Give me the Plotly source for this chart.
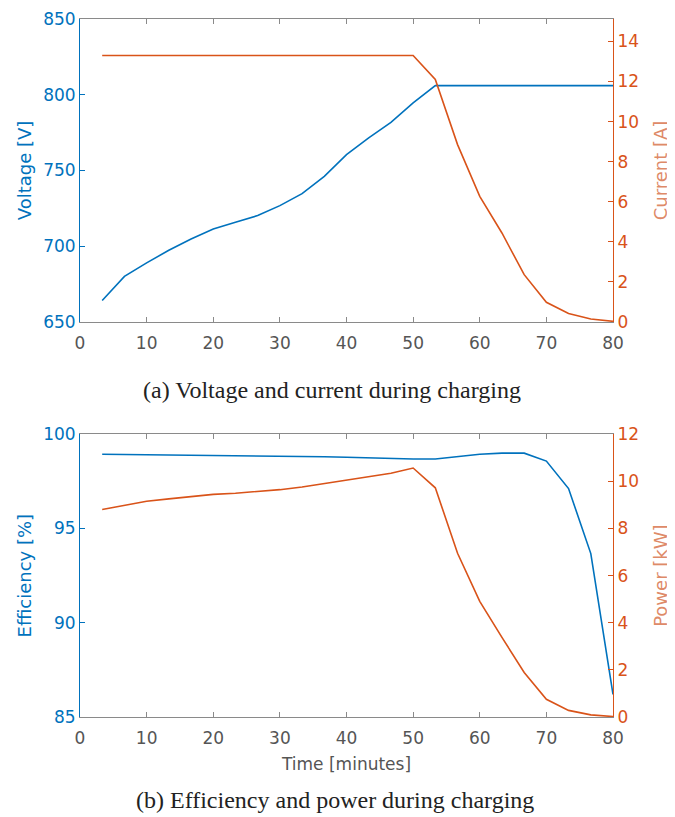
import plotly.graph_objects as go

time_min = [3.33, 6.67, 10, 13.33, 16.67, 20, 23.33, 26.67, 30, 33.33, 36.67, 40,
            43.33, 46.67, 50, 53.33, 56.67, 60, 63.33, 66.67, 70, 73.33, 76.67, 80]

voltage_v = [664.1, 680.1, 689.0, 697.3, 704.8, 711.4, 715.8, 720.2, 726.8, 734.7, 746.1, 760.5,
             771.5, 781.8, 794.6, 806.0, 806.0, 806.0, 806.0, 806.0, 806.0, 806.0, 806.0, 806.0]

current_a = [13.3, 13.3, 13.3, 13.3, 13.3, 13.3, 13.3, 13.3, 13.3, 13.3, 13.3, 13.3,
             13.3, 13.3, 13.3, 12.1, 8.85, 6.27, 4.44, 2.36, 0.98, 0.42, 0.15, 0.03]

efficiency_pct = [98.94, 98.93, 98.92, 98.9, 98.89, 98.89, 98.88, 98.87, 98.86, 98.84, 98.81, 98.78,
                  98.75, 98.7, 98.69, 98.69, 98.83, 98.94, 99.0, 99.0, 98.58, 97.12, 93.67, 86.2]

power_kw = [8.81, 9.0, 9.16, 9.26, 9.36, 9.45, 9.5, 9.56, 9.65, 9.76, 9.9, 10.05,
            10.18, 10.35, 10.57, 9.73, 6.95, 4.91, 3.38, 1.89, 0.75, 0.28, 0.09, 0.02]

x_ticks = [0, 10, 20, 30, 40, 50, 60, 70, 80]
voltage_ticks = [650, 700, 750, 800, 850]
current_ticks = [0, 2, 4, 6, 8, 10, 12, 14]
eff_ticks = [85, 90, 95, 100]
power_ticks = [0, 2, 4, 6, 8, 10, 12]

BLUE = "#0072BD"
RED = "#D95319"
RED_TITLE = "#DE8A68"
GRAY = "#555555"
AXGRAY = "#8a8a8a"
FONT = "DejaVu Sans, Arial, sans-serif"
SERIF = "Liberation Serif, Times New Roman, serif"

fig = go.Figure()
fig.add_trace(go.Scatter(x=time_min, y=voltage_v, mode="lines", line=dict(color=BLUE, width=1.6),
                         xaxis="x", yaxis="y", showlegend=False))
fig.add_trace(go.Scatter(x=time_min, y=current_a, mode="lines", line=dict(color=RED, width=1.6),
                         xaxis="x", yaxis="y2", showlegend=False))
fig.add_trace(go.Scatter(x=time_min, y=efficiency_pct, mode="lines", line=dict(color=BLUE, width=1.6),
                         xaxis="x2", yaxis="y3", showlegend=False))
fig.add_trace(go.Scatter(x=time_min, y=power_kw, mode="lines", line=dict(color=RED, width=1.6),
                         xaxis="x2", yaxis="y4", showlegend=False))

top_dom = [0.566, 1.0]
bot_dom = [0.0, 0.405]

xcommon = dict(range=[0, 80], tickvals=x_ticks, ticks="inside", ticklen=5, tickcolor=AXGRAY,
               showline=True, linecolor=AXGRAY, linewidth=1, mirror="ticks", showgrid=False,
               zeroline=False, automargin=False, ticklabelstandoff=6,
               tickfont=dict(size=17, color=GRAY, family=FONT))


def yax(color, tcolor, rng, ticks, title, side, standoff, **kw):
    d = dict(range=rng, tickvals=ticks, ticks="inside", ticklen=5, tickcolor=color,
             showline=True, linecolor=color, linewidth=1, showgrid=False, zeroline=False,
             automargin=False,
             tickfont=dict(size=17, color=color, family=FONT),
             title=dict(text=title, font=dict(size=18, color=tcolor, family=FONT), standoff=standoff),
             side=side)
    d.update(kw)
    return d


fig.update_layout(
    width=667, height=809,
    margin=dict(l=72, r=62, t=11, b=100),
    plot_bgcolor="white", paper_bgcolor="white",
    xaxis=dict(domain=[0, 1], anchor="y", **xcommon),
    yaxis=yax(BLUE, BLUE, [650, 850], voltage_ticks, "Voltage [V]", "left", 6,
              domain=top_dom, anchor="x"),
    yaxis2=yax(RED, RED_TITLE, [0, 15.12], current_ticks, "Current [A]", "right", 16,
               overlaying="y", anchor="x"),
    xaxis2=dict(domain=[0, 1], anchor="y3",
                title=dict(text="Time [minutes]", font=dict(size=17, color=GRAY, family=FONT), standoff=10),
                **xcommon),
    yaxis3=yax(BLUE, BLUE, [85, 100], eff_ticks, "Efficiency [%]", "left", 6,
               domain=bot_dom, anchor="x2"),
    yaxis4=yax(RED, RED_TITLE, [0, 12], power_ticks, "Power [kW]", "right", 16,
               overlaying="y3", anchor="x2"),
    annotations=[
        dict(text="(a) Voltage and current during charging", xref="paper", yref="paper",
             x=0.473, y=0.4685, xanchor="center", yanchor="middle", showarrow=False,
             font=dict(size=24, color="#222222", family=SERIF)),
        dict(text="(b) Efficiency and power during charging", xref="paper", yref="paper",
             x=0.479, y=-0.119, xanchor="center", yanchor="middle", showarrow=False,
             font=dict(size=24, color="#222222", family=SERIF)),
    ],
)

fig.write_html("out.html")
